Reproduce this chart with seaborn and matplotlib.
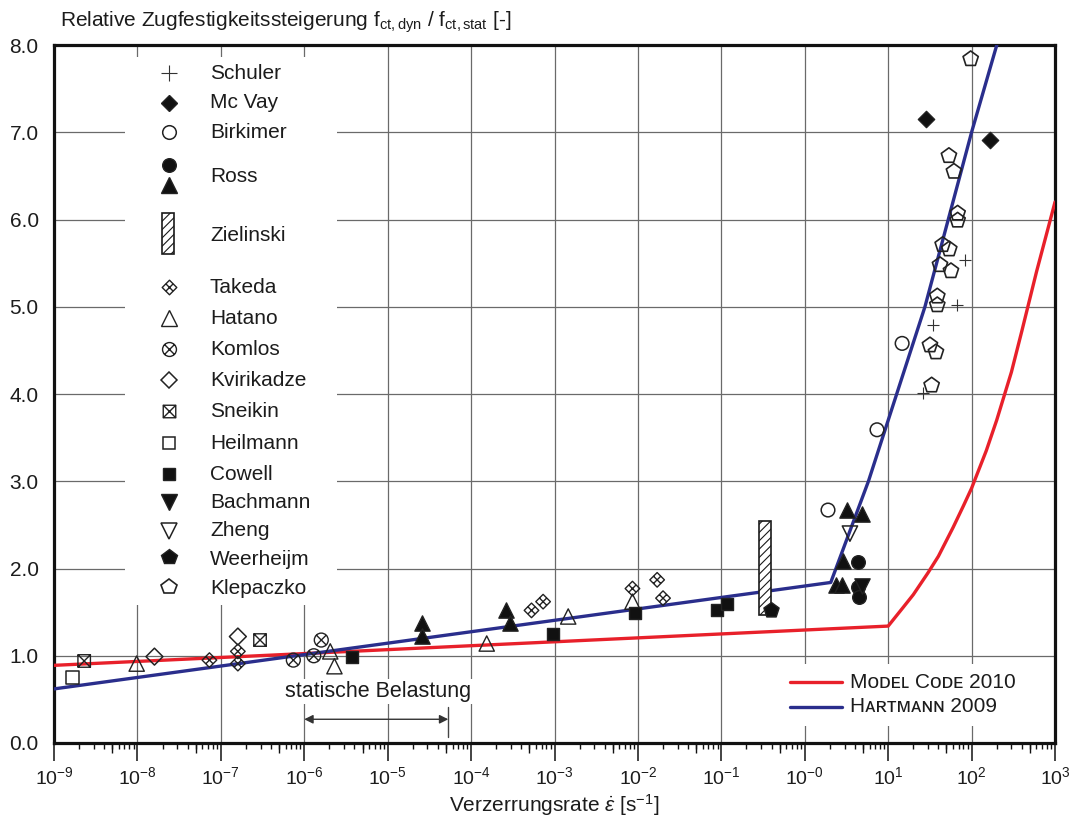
import matplotlib
matplotlib.use("Agg")
import matplotlib.pyplot as plt
import seaborn as sns
from matplotlib.path import Path
from matplotlib.patches import Rectangle
from matplotlib.ticker import FixedLocator, FixedFormatter, NullFormatter, NullLocator, FormatStrFormatter

# ---------------------------------------------------------------- data
schuler_rate = [26.4, 34.8, 67.3, 83.4]
schuler_ratio = [4.01, 4.79, 5.02, 5.54]

mcvay_rate = [28.4, 166.0]
mcvay_ratio = [7.15, 6.91]

birkimer_rate = [1.9, 7.35, 14.7]
birkimer_ratio = [2.67, 3.59, 4.58]

ross_circle_rate = [4.3, 4.4, 4.5]
ross_circle_ratio = [2.07, 1.79, 1.67]
ross_triangle_rate = [2.56e-5, 2.56e-5, 2.62e-4, 2.9e-4, 2.35, 2.8, 2.85, 3.25, 4.81]
ross_triangle_ratio = [1.37, 1.23, 1.52, 1.37, 1.81, 1.81, 2.09, 2.67, 2.62]

zielinski_rate = [0.285, 0.394]
zielinski_ratio = [1.47, 2.54]

takeda_rate = [7.3e-8, 1.6e-7, 1.6e-7, 5.3e-4, 7.3e-4, 8.6e-3, 0.017, 0.020]
takeda_ratio = [0.95, 1.05, 0.91, 1.52, 1.62, 1.77, 1.87, 1.66]

hatano_rate = [9.8e-9, 2.05e-6, 2.3e-6, 1.54e-4, 1.46e-3, 8.6e-3]
hatano_ratio = [0.91, 1.05, 0.88, 1.14, 1.45, 1.62]

komlos_rate = [7.4e-7, 1.3e-6, 1.6e-6]
komlos_ratio = [0.95, 1.00, 1.18]

kvirikadze_rate = [1.6e-8, 1.6e-7]
kvirikadze_ratio = [0.99, 1.22]

sneikin_rate = [2.3e-9, 2.95e-7]
sneikin_ratio = [0.94, 1.18]

heilmann_rate = [1.66e-9]
heilmann_ratio = [0.75]

cowell_rate = [3.77e-6, 9.7e-4, 9.2e-3, 0.088, 0.116]
cowell_ratio = [0.98, 1.25, 1.49, 1.53, 1.59]

bachmann_rate = [4.86]
bachmann_ratio = [1.80]

zheng_rate = [3.48]
zheng_ratio = [2.40]

weerheijm_rate = [0.39]
weerheijm_ratio = [1.53]

klepaczko_rate = [97.5, 53.5, 61.4, 68.0, 68.0, 45.0, 54.0, 41.8, 56.6, 38.8, 38.8, 31.7, 37.4, 33.2]
klepaczko_ratio = [7.84, 6.73, 6.55, 6.07, 5.99, 5.71, 5.66, 5.48, 5.41, 5.12, 5.02, 4.56, 4.48, 4.10]

model_code_rate = [1e-9, 10.0, 15.0, 20.0, 30.0, 40.0, 60.0, 80.0, 100.0, 150.0, 200.0,
                   300.0, 400.0, 600.0, 800.0, 1000.0]
model_code_ratio = [0.89, 1.34, 1.55, 1.70, 1.95, 2.14, 2.47, 2.72, 2.92, 3.35, 3.70,
                    4.25, 4.72, 5.40, 5.85, 6.20]

hartmann_rate = [1e-9, 2.05, 5.8, 27.6, 100.0, 215.0]
hartmann_ratio = [0.62, 1.84, 3.00, 5.00, 7.00, 8.10]

static_range = [1e-6, 5.33e-5]

x_tick_values = [1e-9, 1e-8, 1e-7, 1e-6, 1e-5, 1e-4, 1e-3, 1e-2, 1e-1, 1e0, 1e1, 1e2, 1e3]
x_tick_labels = ["10$^{-9}$", "10$^{-8}$", "10$^{-7}$", "10$^{-6}$", "10$^{-5}$", "10$^{-4}$",
                 "10$^{-3}$", "10$^{-2}$", "10$^{-1}$", "10$^{-0}$", "10$^{1}$", "10$^{2}$", "10$^{3}$"]
y_tick_values = [0, 1, 2, 3, 4, 5, 6, 7, 8]

# ---------------------------------------------------------------- style
sns.set_style("white")
plt.rcParams["font.family"] = ["Liberation Sans", "DejaVu Sans"]
plt.rcParams["mathtext.fontset"] = "custom"
plt.rcParams["mathtext.rm"] = "Liberation Sans"
plt.rcParams["mathtext.it"] = "Liberation Sans:italic"
plt.rcParams["mathtext.bf"] = "Liberation Sans:bold"
plt.rcParams["hatch.linewidth"] = 0.8
plt.rcParams["hatch.color"] = "#555555"

INK = "#1c1c1c"
FS = 15

# ---------------------------------------------------------------- markers
M, L, C = Path.MOVETO, Path.LINETO, Path.CLOSEPOLY
diamond_outline = Path([(0, 1), (1, 0), (0, -1), (-1, 0), (0, 1)], [M, L, L, L, C])
diamond_grid = Path([(0.5, 0.5), (-0.5, -0.5), (-0.5, 0.5), (0.5, -0.5)], [M, L, M, L])
takeda_marker = Path.make_compound_path(diamond_outline, diamond_grid)

circle_cross = Path([(-0.707, -0.707), (0.707, 0.707), (-0.707, 0.707), (0.707, -0.707)], [M, L, M, L])
komlos_marker = Path.make_compound_path(Path.unit_circle(), circle_cross)

square_outline = Path([(-1, -1), (1, -1), (1, 1), (-1, 1), (-1, -1)], [M, L, L, L, C])
square_cross = Path([(-1, -1), (1, 1), (-1, 1), (1, -1)], [M, L, M, L])
sneikin_marker = Path.make_compound_path(square_outline, square_cross)

# name: (marker, size_pt, filled, linewidth)
styles = {
    "Schuler": ("+", 9.0, False, 0.8),
    "Mc Vay": ("D", 8.3, True, 1.0),
    "Birkimer": ("o", 9.8, False, 1.1),
    "Ross_c": ("o", 9.8, True, 1.0),
    "Ross_t": ("^", 11.0, True, 1.0),
    "Takeda": (takeda_marker, 10.5, False, 1.0),
    "Hatano": ("^", 11.0, False, 1.0),
    "Komlos": (komlos_marker, 10.0, False, 1.0),
    "Kvirikadze": ("D", 8.6, False, 1.1),
    "Sneikin": (sneikin_marker, 9.0, False, 1.0),
    "Heilmann": ("s", 9.0, False, 1.1),
    "Cowell": ("s", 9.0, True, 1.0),
    "Bachmann": ("v", 11.0, True, 1.0),
    "Zheng": ("v", 11.0, False, 1.1),
    "Weerheijm": ("p", 11.5, True, 1.0),
    "Klepaczko": ("p", 11.5, False, 1.2),
}

# ---------------------------------------------------------------- figure
fig = plt.figure(figsize=(10.69, 8.22), dpi=100)
ax = fig.add_axes([54 / 1069, 1 - 743 / 822, 1001 / 1069, 698 / 822])
ax.set_xscale("log")
ax.set_xlim(1e-9, 1e3)
ax.set_ylim(0, 8)

# grid and ticks
ax.set_axisbelow(True)
ax.xaxis.set_major_locator(FixedLocator(x_tick_values))
ax.xaxis.set_major_formatter(FixedFormatter(x_tick_labels))
minor = [m * 10.0 ** k for k in range(-9, 3) for m in range(2, 10)]
ax.xaxis.set_minor_locator(FixedLocator(minor))
ax.xaxis.set_minor_formatter(NullFormatter())
ax.yaxis.set_major_locator(FixedLocator(y_tick_values))
ax.yaxis.set_major_formatter(FormatStrFormatter("%.1f"))
ax.grid(True, which="major", color="#6a6a6a", linewidth=0.9)
ax.grid(False, which="minor")

for sp in ax.spines.values():
    sp.set_linewidth(2.3)
    sp.set_color("#111111")
    sp.set_visible(True)

ax.tick_params(axis="x", which="major", direction="out", length=13, width=1.1,
               color="#111111", labelsize=14, pad=4, labelcolor=INK, bottom=True)
ax.tick_params(axis="x", which="minor", direction="out", length=4.5, width=1.0,
               color="#111111", bottom=True)
ax.tick_params(axis="y", which="major", length=0, labelsize=FS, pad=11, labelcolor=INK)

# longer ticks at 5 x 10^k
sec = ax.secondary_xaxis("bottom")
sec.set_xticks([5 * 10.0 ** k for k in range(-9, 3)])
sec.xaxis.set_minor_locator(NullLocator())
sec.tick_params(axis="x", direction="out", length=7.5, width=1.0, color="#111111",
                labelbottom=False)
sec.spines["bottom"].set_visible(False)

# ---------------------------------------------------------------- model lines
sns.lineplot(x=model_code_rate, y=model_code_ratio, color="#e8202a", linewidth=2.4,
             estimator=None, sort=False, ax=ax, zorder=3)
sns.lineplot(x=hartmann_rate, y=hartmann_ratio, color="#2a2e8c", linewidth=2.4,
             estimator=None, sort=False, ax=ax, zorder=3)

# Zielinski range bar
ax.bar(zielinski_rate[0], zielinski_ratio[1] - zielinski_ratio[0],
       width=zielinski_rate[1] - zielinski_rate[0], bottom=zielinski_ratio[0],
       align="edge", facecolor="white", edgecolor="#1a1a1a", linewidth=1.2,
       hatch="////", zorder=4)

# ---------------------------------------------------------------- scatter series
series = [
    ("Schuler", schuler_rate, schuler_ratio),
    ("Mc Vay", mcvay_rate, mcvay_ratio),
    ("Birkimer", birkimer_rate, birkimer_ratio),
    ("Ross_c", ross_circle_rate, ross_circle_ratio),
    ("Ross_t", ross_triangle_rate, ross_triangle_ratio),
    ("Takeda", takeda_rate, takeda_ratio),
    ("Hatano", hatano_rate, hatano_ratio),
    ("Komlos", komlos_rate, komlos_ratio),
    ("Kvirikadze", kvirikadze_rate, kvirikadze_ratio),
    ("Sneikin", sneikin_rate, sneikin_ratio),
    ("Heilmann", heilmann_rate, heilmann_ratio),
    ("Cowell", cowell_rate, cowell_ratio),
    ("Bachmann", bachmann_rate, bachmann_ratio),
    ("Zheng", zheng_rate, zheng_ratio),
    ("Weerheijm", weerheijm_rate, weerheijm_ratio),
    ("Klepaczko", klepaczko_rate, klepaczko_ratio),
]

for name, xs, ys in series:
    marker, size, filled, lw = styles[name]
    if marker == "+":
        sns.scatterplot(x=xs, y=ys, marker="+", s=size ** 2, color="#333333",
                        linewidth=lw, ax=ax, zorder=5)
    else:
        sns.scatterplot(x=xs, y=ys, marker=marker, s=size ** 2,
                        facecolor="#111111" if filled else "none",
                        edgecolor="#222222", linewidth=lw, ax=ax, zorder=5)

# ---------------------------------------------------------------- static load range
ax.text(7.66e-6, 0.588, "statische Belastung", ha="center", va="center", fontsize=15.5,
        color=INK, zorder=6,
        bbox=dict(facecolor="white", edgecolor="none", pad=1.5))
ax.annotate("", xy=(static_range[0], 0.272), xytext=(static_range[1], 0.272),
            arrowprops=dict(arrowstyle="<|-|>", color="#333333", lw=1.0,
                            mutation_scale=13, shrinkA=0, shrinkB=0), zorder=6)
ax.plot([static_range[1], static_range[1]], [0.072, 0.416], color="#444444", lw=1.0, zorder=6)

# ---------------------------------------------------------------- source legend
def ax_y(py):
    return (743 - py) / 698

def ax_x(px):
    return (px - 54) / 1001

ax.add_patch(Rectangle((ax_x(125), ax_y(605)), ax_x(337) - ax_x(125), ax_y(57) - ax_y(605),
                       transform=ax.transAxes, facecolor="white", edgecolor="none", zorder=2.5))

legend_rows = [
    ("Schuler", ["Schuler"], [73], 73),
    ("Mc Vay", ["Mc Vay"], [103], 102),
    ("Birkimer", ["Birkimer"], [132], 132),
    ("Ross", ["Ross_c", "Ross_t"], [165, 185], 176),
    ("Zielinski", [], [], 235),
    ("Takeda", ["Takeda"], [287], 287),
    ("Hatano", ["Hatano"], [318], 318),
    ("Komlos", ["Komlos"], [349], 349),
    ("Kvirikadze", ["Kvirikadze"], [380], 380),
    ("Sneikin", ["Sneikin"], [411], 411),
    ("Heilmann", ["Heilmann"], [443], 443),
    ("Cowell", ["Cowell"], [474], 474),
    ("Bachmann", ["Bachmann"], [502], 502),
    ("Zheng", ["Zheng"], [531], 531),
    ("Weerheijm", ["Weerheijm"], [557], 559),
    ("Klepaczko", ["Klepaczko"], [587], 588),
]

mx = ax_x(169)
for label, keys, ys_px, ty in legend_rows:
    for key, py in zip(keys, ys_px):
        marker, size, filled, lw = styles[key]
        if key == "Schuler":
            size = 12.0
        if marker == "+":
            ax.plot([mx], [ax_y(py)], marker="+", ms=size, mew=lw, color="#333333",
                    transform=ax.transAxes, zorder=6, linestyle="none")
        else:
            ax.plot([mx], [ax_y(py)], marker=marker, ms=size, mew=lw,
                    mfc="#111111" if filled else "none", mec="#222222",
                    transform=ax.transAxes, zorder=6, linestyle="none")
    ax.text(ax_x(210), ax_y(ty), label, transform=ax.transAxes, ha="left", va="center",
            fontsize=FS, color=INK, zorder=6)

ax.add_patch(Rectangle((ax_x(162), ax_y(254)), ax_x(174) - ax_x(162), ax_y(213) - ax_y(254),
                       transform=ax.transAxes, facecolor="white", edgecolor="#1a1a1a",
                       linewidth=1.2, hatch="////", zorder=6))

# ---------------------------------------------------------------- model legend
ax.add_patch(Rectangle((ax_x(780), ax_y(726)), ax_x(1048) - ax_x(780), ax_y(664) - ax_y(726),
                       transform=ax.transAxes, facecolor="white", edgecolor="none", zorder=2.5))
for py, colour, label in [(682, "#e8202a", "M\u1d0f\u1d05\u1d07\u029f C\u1d0f\u1d05\u1d07 2010"),
                          (707, "#2a2e8c", "H\u1d00\u0280\u1d1b\u1d0d\u1d00\u0274\u0274 2009")]:
    ax.plot([ax_x(790), ax_x(842)], [ax_y(py), ax_y(py)], color=colour, lw=2.4,
            transform=ax.transAxes, zorder=6)
    ax.text(ax_x(850), ax_y(py), label, transform=ax.transAxes, ha="left", va="center",
            fontsize=FS, color=INK, zorder=6)

# ---------------------------------------------------------------- titles
fig.text(60 / 1069, 1 - 22 / 822,
         r"Relative Zugfestigkeitssteigerung f$_{\mathrm{ct,dyn}}$ / f$_{\mathrm{ct,stat}}$ [-]",
         ha="left", va="center", fontsize=FS, color=INK)
fig.text(554 / 1069, 1 - 805 / 822,
         r"Verzerrungsrate $\dot{\varepsilon}$ [s$^{-1}$]",
         ha="center", va="center", fontsize=FS, color=INK)
ax.set_xlabel("")
ax.set_ylabel("")

fig.savefig("out.png", dpi=100, facecolor="white")
